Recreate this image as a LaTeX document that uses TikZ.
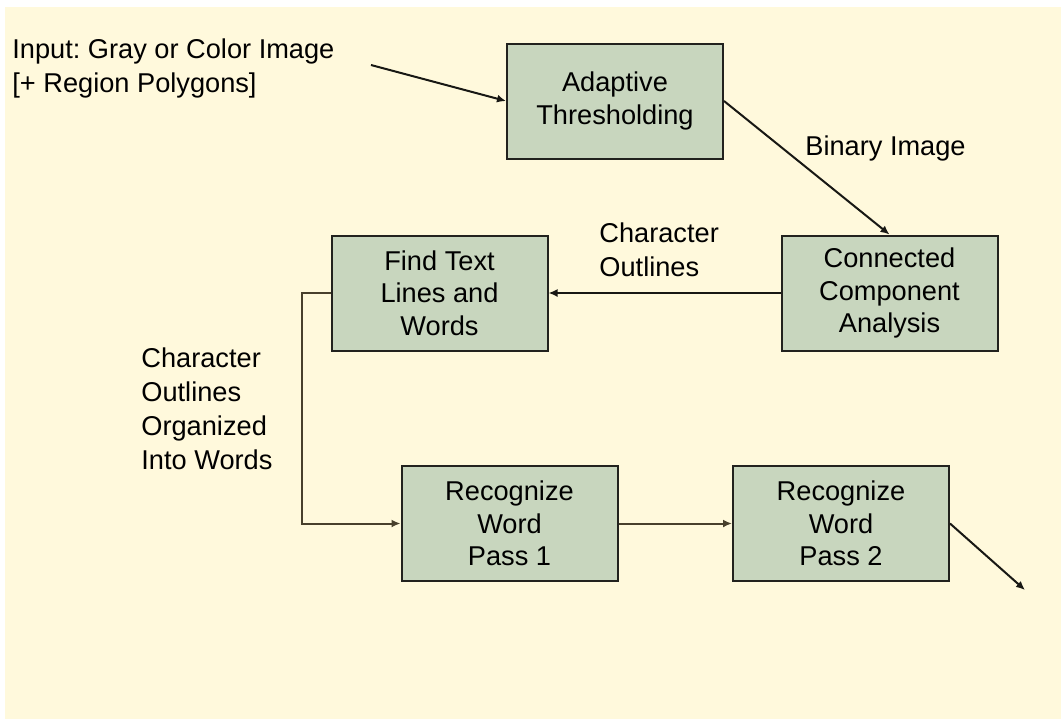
\documentclass[tikz,border=0pt]{standalone}
\usepackage{fontspec}
\setmainfont{Liberation Sans}
\usetikzlibrary{arrows.meta}
\definecolor{paper}{RGB}{255,249,220}
\definecolor{boxfill}{RGB}{200,214,190}
\definecolor{boxline}{RGB}{34,34,30}
\definecolor{wire}{RGB}{24,24,20}
\definecolor{wirelow}{RGB}{72,64,44}
\frenchspacing
\begin{document}
\begin{tikzpicture}[x=0.5pt,y=-0.5pt,
  stage/.style={draw=boxline, line width=1pt, fill=boxfill,
    minimum width=108pt, minimum height=57.5pt, inner sep=0pt,
    align=center, font=\fontsize{13.6}{16.25}\selectfont},
  caption/.style={inner sep=0pt, anchor=north west, align=left,
    font=\fontsize{13.6}{17}\selectfont},
  flow/.style={draw=wire, line width=1pt, -{Latex[length=4.5pt,width=4pt]}},
  flowlow/.style={flow, draw=wirelow},
]
% page and paper
\fill[white] (0,0) rectangle (1061,719);
\fill[paper] (5,7) rectangle (1061,719);
\useasboundingbox (0,0) rectangle (1061,719);

% processing stages
\node[stage] (adapt) at (615,101)   {Adaptive\\Thresholding};
\node[stage] (conn)  at (889.5,293) {Connected\\Component\\Analysis};
\node[stage] (find)  at (439.5,293) {Find Text\\Lines and\\Words};
\node[stage] (pass1) at (509.5,523.5) {Recognize\\Word\\Pass 1};
\node[stage] (pass2) at (841,523.5)   {Recognize\\Word\\Pass 2};

% captions
\node[caption] (input) at (12,38) {Input: Gray or Color Image\\{[}+ Region Polygons{]}};
\node[caption] (binary) at (805,135) {Binary Image};
\node[caption] (outl) at (599,222) {Character\\Outlines};
\node[caption] (words) at (141,347) {Character\\Outlines\\Organized\\Into Words};

% free ends
\coordinate (src) at (371,65);
\coordinate (out) at (1025,590);

% connectors
\draw[flow] (src) -- (adapt.west);
\draw[flow] (adapt.east) -- (conn.north);
\draw[flow] (conn.west) -- (find.east);
\draw[flowlow] (find.west) -- ++(-29,0) |- (pass1.west);
\draw[flowlow] (pass1.east) -- (pass2.west);
\draw[flow] (pass2.east) -- (out);
\end{tikzpicture}
\end{document}
